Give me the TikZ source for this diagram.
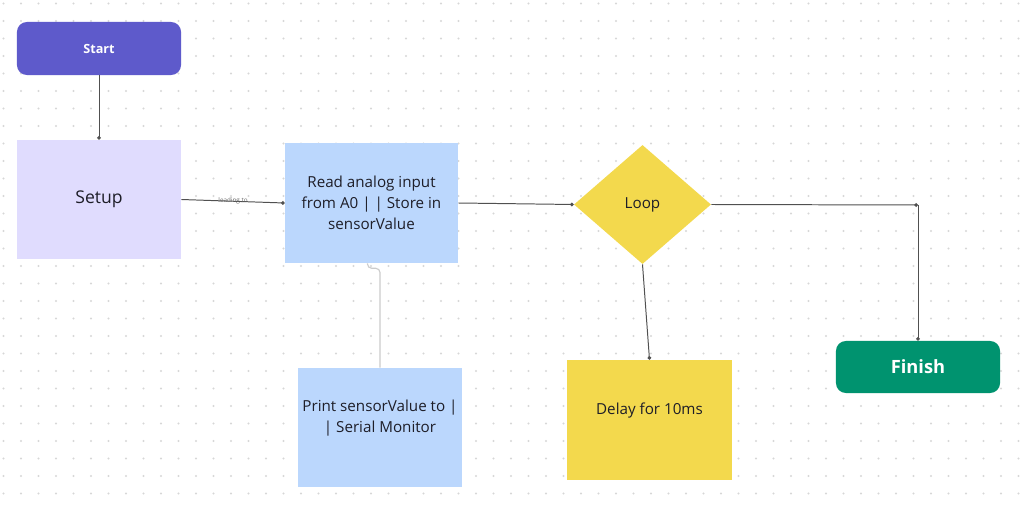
\documentclass[tikz,border=0pt]{standalone}
\usepackage{fontspec}
\setmainfont{Open Sans}
\usetikzlibrary{shapes,arrows.meta,positioning}
\definecolor{startblue}{RGB}{94,90,203}
\definecolor{setuplilac}{RGB}{224,220,254}
\definecolor{stepblue}{RGB}{187,215,253}
\definecolor{loopyellow}{RGB}{243,217,77}
\definecolor{finishgreen}{RGB}{0,147,111}
\definecolor{linegray}{RGB}{80,80,80}
\definecolor{dotgray}{RGB}{215,215,215}
\definecolor{boxtext}{RGB}{30,30,40}
\tikzstyle{terminal} = [rectangle, rounded corners=7pt, text=white, inner sep=0pt, minimum width=4.1cm, font=\bfseries]
\tikzstyle{process} = [rectangle, text=boxtext, inner sep=0pt, align=center, font=\fontsize{10.8}{15}\selectfont]
\tikzstyle{decision} = [diamond, fill=loopyellow, text=boxtext, inner sep=0pt, minimum width=3.425cm, minimum height=2.975cm, font=\fontsize{10.8}{15}\selectfont]
\tikzstyle{link} = [draw=linegray, line width=0.7pt, -{Circle[length=2.6pt]}]
\tikzstyle{softlink} = [draw=black!20, line width=0.8pt, rounded corners=3pt]
\begin{document}
\begin{tikzpicture}[x=0.025cm, y=-0.025cm]
  \fill[white] (0,0) rectangle (1035,505);
  \useasboundingbox (0,0) rectangle (1035,505);
  % dotted canvas
  \foreach \i in {0,...,58}
    \foreach \j in {0,...,28}
      \fill[dotgray] (3.5+17.5*\i, 3.5+17.5*\j) circle (0.75pt);

  \node[terminal, fill=startblue, minimum height=1.325cm, font=\bfseries\fontsize{9}{10}\selectfont] (start) at (99,48.5) {Start};
  \node[process, fill=setuplilac, minimum width=4.1cm, minimum height=2.975cm, font=\fontsize{12.5}{14}\selectfont] (setup) at (99,199.5) {Setup};
  \node[process, fill=stepblue, minimum width=4.325cm, minimum height=3cm] (read) at (371.5,203) {Read analog input\\from A0 | | Store in\\sensorValue};
  \node[decision] (loop) at (642.5,204.5) {Loop};
  \node[process, fill=loopyellow, minimum width=4.125cm, minimum height=3cm, text depth=16pt] (delay) at (649.5,420) {Delay for 10ms};
  \node[process, fill=stepblue, minimum width=4.1cm, minimum height=2.975cm, text depth=16pt] (print) at (380,427.5) {Print sensorValue to |\\| Serial Monitor};
  \node[terminal, fill=finishgreen, minimum height=1.3cm, font=\bfseries\fontsize{13}{15}\selectfont] (finish) at (918,367) {Finish};
  \coordinate (bend) at (918,205);

  \draw[link] (start) -- (setup);
  \draw[link] (setup.east) -- node[text=black!60, font=\fontsize{4.5}{5}\selectfont] {leading to} (read.west);
  \draw[link] (read.east) -- (loop.west);
  \draw[link] (loop.east) -- (bend);
  \draw[link] (bend) -- (finish.north);
  \draw[link] (loop.south) -- (delay.north);
  \draw[softlink] ([xshift=-0.1cm]read.south) -- ++(0,5) -| (print.north);
\end{tikzpicture}
\end{document}
